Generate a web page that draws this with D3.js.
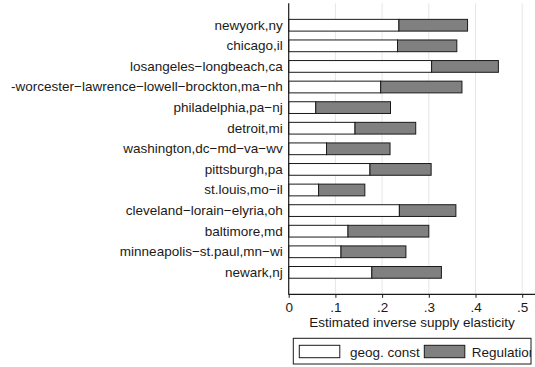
<!DOCTYPE html>
<html>
<head>
<meta charset="utf-8">
<script src="https://cdn.jsdelivr.net/npm/d3@7"></script>
<style>
  body { margin: 0; background: #fff; }
  svg { display: block; font-family: "Liberation Sans", Arial, sans-serif; }
</style>
</head>
<body>
<div id="chart"></div>
<script>
// metro areas, top to bottom
var cities = [
    "newyork,ny",
    "chicago,il",
    "losangeles\u2212longbeach,ca",
    "-worcester\u2212lawrence\u2212lowell\u2212brockton,ma\u2212nh",
    "philadelphia,pa\u2212nj",
    "detroit,mi",
    "washington,dc\u2212md\u2212va\u2212wv",
    "pittsburgh,pa",
    "st.louis,mo\u2212il",
    "cleveland\u2212lorain\u2212elyria,oh",
    "baltimore,md",
    "minneapolis\u2212st.paul,mn\u2212wi",
    "newark,nj"
];

var geog = [0.236, 0.233, 0.306, 0.197, 0.058, 0.142, 0.081, 0.174, 0.064, 0.237, 0.127, 0.112, 0.178];
var regulation = [0.147, 0.127, 0.143, 0.174, 0.160, 0.130, 0.136, 0.131, 0.099, 0.121, 0.173, 0.139, 0.149];

var xTicks = [0, 0.1, 0.2, 0.3, 0.4, 0.5];
var xTickLabels = ["0", ".1", ".2", ".3", ".4", ".5"];
var seriesNames = ["geog. const", "Regulation"];
var seriesColors = ["#ffffff", "#808080"];

var width = 535;
var height = 367;

var margin = {
    top: 3.3,
    left: 288.7,
    right: 0,
    bottom: 72.7
};

var svg = d3.select('#chart')
    .append('svg')
    .attr('width', width)
    .attr('height', height);

var x_scale = d3.scaleLinear()
    .domain([0, 0.5])
    .range([margin.left, 522.2]);

var y_scale = d3.scaleBand()
    .domain(cities)
    .range([margin.top, height - margin.bottom])
    .paddingInner(0.43)
    .paddingOuter(0.78);

var plotBottom = height - margin.bottom;

// grid lines
svg.append('g')
    .attr('class', 'grid')
    .selectAll('line')
    .data(xTicks.slice(1))
    .enter()
    .append('line')
    .attr('x1', function(d) { return x_scale(d); })
    .attr('x2', function(d) { return x_scale(d); })
    .attr('y1', margin.top)
    .attr('y2', plotBottom)
    .attr('stroke', '#e6e6e6')
    .attr('stroke-width', 1);

// stacked bars
var rows = cities.map(function(c, i) {
    return { city: c, geog: geog[i], reg: regulation[i] };
});

var barG = svg.append('g').attr('class', 'bars');

barG.selectAll('rect.geog')
    .data(rows)
    .enter()
    .append('rect')
    .attr('class', 'geog')
    .attr('x', function(d) { return x_scale(0); })
    .attr('y', function(d) { return y_scale(d.city); })
    .attr('width', function(d) { return x_scale(d.geog) - x_scale(0); })
    .attr('height', y_scale.bandwidth())
    .attr('fill', seriesColors[0])
    .attr('stroke', '#1a1a1a')
    .attr('stroke-width', 1);

barG.selectAll('rect.reg')
    .data(rows)
    .enter()
    .append('rect')
    .attr('class', 'reg')
    .attr('x', function(d) { return x_scale(d.geog); })
    .attr('y', function(d) { return y_scale(d.city); })
    .attr('width', function(d) { return x_scale(d.geog + d.reg) - x_scale(d.geog); })
    .attr('height', y_scale.bandwidth())
    .attr('fill', seriesColors[1])
    .attr('stroke', '#1a1a1a')
    .attr('stroke-width', 1);

// y axis (category labels only, no ticks)
var y_axis = d3.axisLeft(y_scale).tickSize(0).tickPadding(6);
var yG = svg.append('g')
    .attr('class', 'y axis')
    .attr('transform', 'translate(' + margin.left + ',0)')
    .call(y_axis);
yG.select('.domain').remove();
yG.selectAll('text')
    .attr('font-size', '13.5px')
    .attr('font-family', '"Liberation Sans", Arial, sans-serif')
    .attr('fill', '#1a1a1a');

// x axis
var x_axis = d3.axisBottom(x_scale)
    .tickValues(xTicks)
    .tickFormat(function(d, i) { return xTickLabels[i]; })
    .tickSizeInner(3.5)
    .tickSizeOuter(0)
    .tickPadding(5);
var xG = svg.append('g')
    .attr('class', 'x axis')
    .attr('transform', 'translate(0,' + plotBottom + ')')
    .call(x_axis);
xG.select('.domain').remove();
xG.selectAll('line').attr('stroke', '#1a1a1a');
xG.selectAll('text')
    .attr('font-size', '13.5px')
    .attr('font-family', '"Liberation Sans", Arial, sans-serif')
    .attr('fill', '#1a1a1a');

// axis lines
svg.append('line')
    .attr('x1', margin.left)
    .attr('x2', margin.left)
    .attr('y1', margin.top)
    .attr('y2', plotBottom + 0.5)
    .attr('stroke', '#1a1a1a')
    .attr('stroke-width', 1.2);
svg.append('line')
    .attr('x1', margin.left)
    .attr('x2', width)
    .attr('y1', plotBottom)
    .attr('y2', plotBottom)
    .attr('stroke', '#1a1a1a')
    .attr('stroke-width', 1.2);

// axis title
svg.append('text')
    .attr('x', 412)
    .attr('y', 327.3)
    .attr('text-anchor', 'middle')
    .attr('font-size', '13.5px')
    .attr('fill', '#1a1a1a')
    .text('Estimated inverse supply elasticity');

// legend
var legend = {
    x: 293.3,
    y: 338.3,
    w: 237.7,
    h: 25.7
};

svg.append('clipPath')
    .attr('id', 'legclip')
    .append('rect')
    .attr('x', legend.x)
    .attr('y', legend.y)
    .attr('width', legend.w)
    .attr('height', legend.h);

var legG = svg.append('g')
    .attr('class', 'legend')
    .attr('clip-path', 'url(#legclip)');

var swatchX = [299.3, 424.3];
var labelX = [350, 471.7];

seriesNames.forEach(function(name, i) {
    legG.append('rect')
        .attr('x', swatchX[i])
        .attr('y', 345.3)
        .attr('width', 40.5)
        .attr('height', 12.4)
        .attr('fill', seriesColors[i])
        .attr('stroke', '#1a1a1a')
        .attr('stroke-width', 1);
    legG.append('text')
        .attr('x', labelX[i])
        .attr('y', 356.5)
        .attr('font-size', '13.5px')
        .attr('fill', '#1a1a1a')
        .text(name);
});

svg.append('rect')
    .attr('x', legend.x)
    .attr('y', legend.y)
    .attr('width', legend.w)
    .attr('height', legend.h)
    .attr('fill', 'none')
    .attr('stroke', '#1a1a1a')
    .attr('stroke-width', 1);
</script>
</body>
</html>
